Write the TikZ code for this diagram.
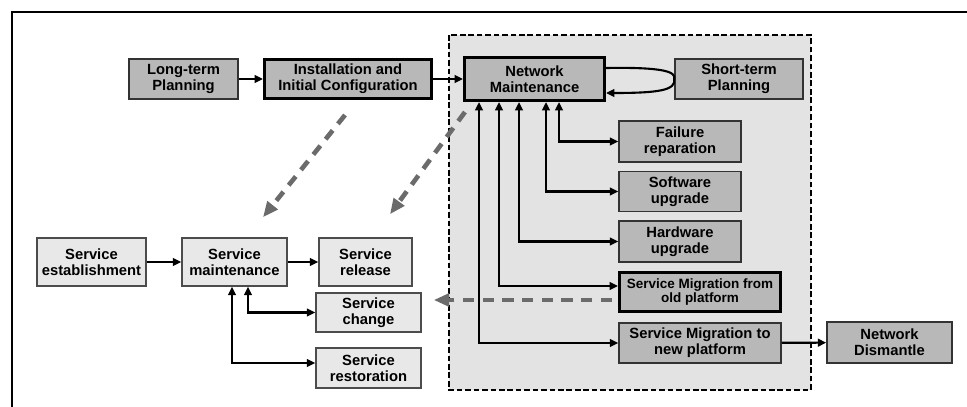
\documentclass[tikz,border=0pt]{standalone}
\usepackage{fontspec}
\setmainfont{Liberation Sans}
\usepackage{tikz}
\usetikzlibrary{
  arrows.meta,
  positioning,
  calc
}
\usepackage{xcolor}
\definecolor{boxGray}{rgb}{0.72,0.72,0.72}
\definecolor{lightBox}{rgb}{0.91,0.91,0.91}
\definecolor{zoneGray}{rgb}{0.89,0.89,0.89}
\definecolor{dashGray}{rgb}{0.42,0.42,0.42}
\tikzset{
  block/.style={
    draw=black!80,
    fill=boxGray,
    line width=1.1pt,
    align=center,
    inner sep=0pt,
    font=\bfseries\fontsize{10.5}{11.5}\selectfont
  },
  dim/.style 2 args={
    minimum width=#1*0.025cm,
    minimum height=#2*0.025cm
  },
  sblock/.style={block, fill=lightBox, draw=black!70},
  heavy/.style={block, draw=black, line width=2.2pt},
  link/.style={-{Triangle[length=6pt,width=5.5pt]}, line width=1.5pt},
  both/.style={{Triangle[length=6pt,width=5.5pt]}-{Triangle[length=6pt,width=5.5pt]}, line width=1.5pt},
  flow/.style={
    -{Triangle[length=11pt,width=9pt]},
    draw=dashGray,
    line width=3.3pt,
    dash pattern=on 8pt off 6pt
  }
}

\begin{document}
\begin{tikzpicture}[x=0.025cm, y=-0.025cm, >=Stealth]
    \useasboundingbox (0,0) rectangle (967,407);

    \draw[line width=2.1pt] (12,407) -- (12,12) -- (967,12);

    \draw[fill=zoneGray, line width=1.4pt, dash pattern=on 4pt off 2pt]
    (449,35) rectangle (811,390);

    \node[block, dim={109}{40}] (ltp) at (183.5,79) {Long-term\\Planning};
    \node[heavy, dim={167}{39}] (inst) at (348,79) {Installation and\\Initial Configuration};
    \node[heavy, dim={140}{43}] (nm) at (534.5,79) {Network\\Maintenance};
    \node[block, dim={128}{40}] (stp) at (739,79) {Short-term\\Planning};

    \node[block, dim={122}{41}] (fail) at (680,141.5) {Failure\\reparation};
    \node[block, dim={122}{40}] (sw) at (680,191.5) {Software\\upgrade};
    \node[block, dim={122}{41}] (hw) at (680,241.5) {Hardware\\upgrade};
    \node[heavy, dim={161}{39}, font=\bfseries\fontsize{9.6}{10.2}\selectfont]
    (mold) at (700,292) {Service Migration from\\old platform};
    \node[block, dim={162}{40}] (mnew) at (700,343) {Service Migration to\\new platform};
    \node[block, dim={125}{41}] (dis) at (889.5,342.5) {Network\\Dismantle};

    \node[sblock, dim={109}{48}] (sest) at (91.5,262) {Service\\establishment};
    \node[sblock, dim={105}{48}] (smain) at (234.5,262) {Service\\maintenance};
    \node[sblock, dim={93}{48}] (srel) at (365.5,262) {Service\\release};
    \node[sblock, dim={105}{39}] (schg) at (368.5,312.5) {Service\\change};
    \node[sblock, dim={105}{40}] (sres) at (368.5,368) {Service\\restoration};

    \draw[flow] ($(inst.south)+(-3,15)$) -- ($(smain.north)+(28.5,-20)$);
    \draw[flow] ($(nm.south west)+(2,10)$) -- ($(srel.north)+(24.5,-23)$);
    \draw[flow] ($(mold.west)+(-6,8)$) -- ($(schg.east)+(12,-12.5)$);

    \draw[link] (ltp) -- (inst);
    \draw[link] (inst) -- (nm);
    \draw[link] (mnew) -- (dis);

    \draw[link]
    ($(nm.east)+(0,-11)$) .. controls (665,67) and (676,72) .. (stp.west)
    .. controls (676,90) and (660,93) .. ($(nm.east)+(0,14)$);

    \foreach \dx/\t/\dy in {-55.5/mnew/0, -35.5/mold/-6, -15.5/hw/0, 11.5/sw/0, 24.5/fail/0}{
      \draw[both] ($(nm.south)+(\dx,0)$) |- ($(\t.west)+(0,\dy)$);
    }

    \draw[link] (sest) -- (smain);
    \draw[link] (smain) -- (srel);
    \draw[both] ($(smain.south)+(13.5,0)$) |- (schg.west);
    \draw[both] ($(smain.south)+(-2.5,0)$) |- ($(sres.west)+(0,-5)$);
\end{tikzpicture}
\end{document}
